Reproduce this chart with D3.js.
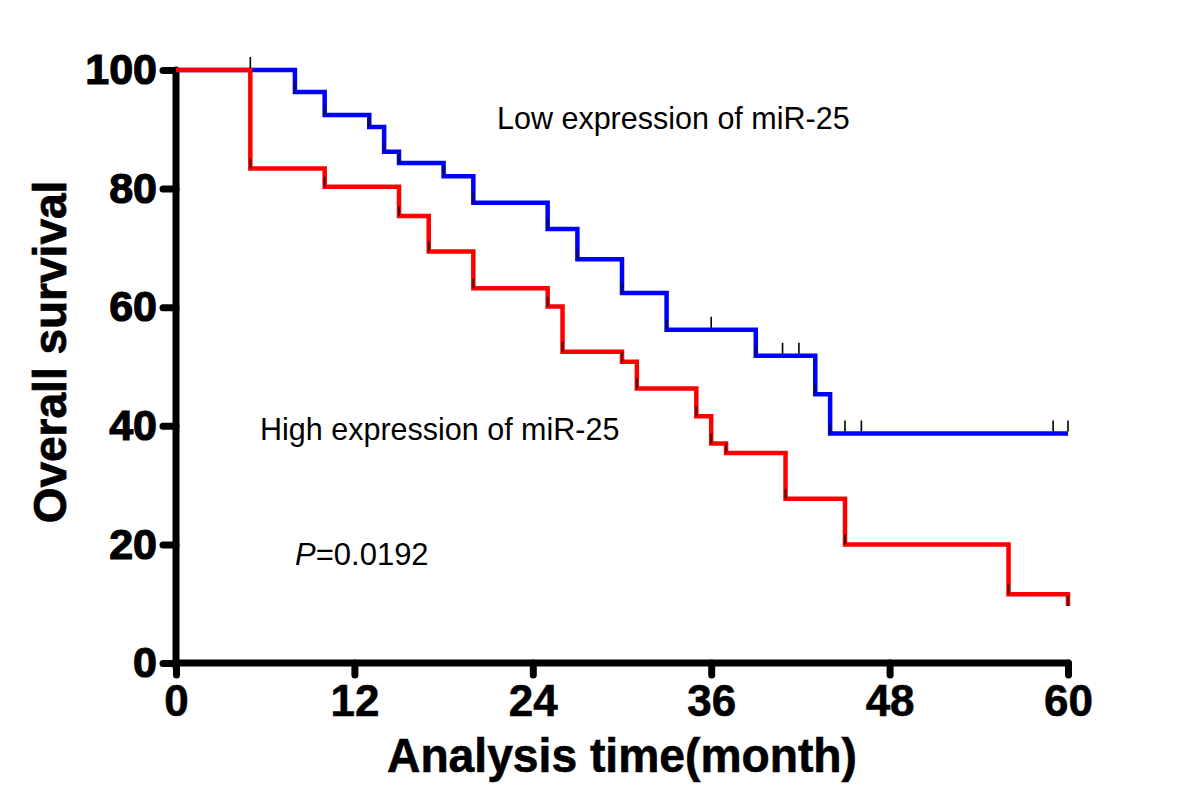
<!DOCTYPE html>
<html>
<head>
<meta charset="utf-8">
<script src="https://cdn.jsdelivr.net/npm/d3@7"></script>
<style>
  html, body { margin: 0; padding: 0; background: #fff; }
  svg { display: block; }
  text { font-family: "Liberation Sans", Arial, sans-serif; }
</style>
</head>
<body>
<svg id="chart" width="1200" height="812"></svg>
<script>
// ---- Data ----
const xTicks = [0, 12, 24, 36, 48, 60];
const yTicks = [0, 20, 40, 60, 80, 100];

// Low expression of miR-25 (blue): event times and survival after each event
const lowTimes  = [0, 8, 10, 13, 14, 15, 18, 20, 25, 27, 30, 33, 39, 43, 44, 60];
const lowSurv   = [100, 96.3, 92.4, 90.4, 86.2, 84.3, 82.1, 77.6, 73.2, 68.1, 62.4, 56.2, 51.8, 45.3, 38.7, 38.7];
const lowCensor = [5, 36, 40.8, 41.9, 45, 46.1, 59, 60];

// High expression of miR-25 (red)
const highTimes = [0, 5, 10, 15, 17, 20, 25, 26, 30, 31, 35, 36, 37, 41, 45, 56, 60];
const highSurv  = [100, 83.4, 80.3, 75.4, 69.4, 63.2, 60.1, 52.5, 50.8, 46.3, 41.6, 37.0, 35.4, 27.7, 20.0, 11.6, 9.6];
const highCensor = [];

const labels = {
  low: "Low expression of miR-25",
  high: "High expression of miR-25",
  p: "0.0192",
  xTitle: "Analysis time(month)",
  yTitle: "Overall survival"
};

// ---- Layout ----
const svg = d3.select("#chart");
const x = d3.scaleLinear().domain([0, 60]).range([176, 1068]);
const y = d3.scaleLinear().domain([0, 100]).range([663, 70]);

// ---- Axes ----
const yAxis = svg.append("g").attr("transform", `translate(${x(0)},0)`)
  .call(d3.axisLeft(y).tickValues(yTicks).tickSize(13).tickPadding(6).tickFormat(d3.format("d")));
const xAxis = svg.append("g").attr("transform", `translate(0,${y(0)})`)
  .call(d3.axisBottom(x).tickValues(xTicks).tickSize(12).tickPadding(8).tickFormat(d3.format("d")));

[yAxis, xAxis].forEach(g => {
  g.select(".domain").remove();
  g.selectAll(".tick line").attr("stroke", "#000").attr("stroke-width", 7).attr("stroke-linecap", "round");
  g.selectAll(".tick text").attr("fill", "#000").attr("font-weight", "bold");
});
yAxis.selectAll(".tick text").attr("font-size", 43).attr("dy", "0.32em").attr("x", -19)
  .attr("stroke", "#000").attr("stroke-width", 1.2);
xAxis.selectAll(".tick text").attr("font-size", 44).attr("dy", "0.71em").attr("y", 22)
  .attr("stroke", "#000").attr("stroke-width", 0.6);

// axis lines
svg.append("line").attr("x1", x(0)).attr("x2", x(0)).attr("y1", y(100)).attr("y2", y(0) + 4)
  .attr("stroke", "#000").attr("stroke-width", 7).attr("stroke-linecap", "round");
svg.append("line").attr("x1", x(0)).attr("x2", x(60)).attr("y1", y(0)).attr("y2", y(0))
  .attr("stroke", "#000").attr("stroke-width", 7).attr("stroke-linecap", "round");

// ---- Curves ----
const line = d3.line().x(d => x(d[0])).y(d => y(d[1])).curve(d3.curveStepAfter);
function drawCurve(times, surv, color) {
  const pts = times.map((t, i) => [t, surv[i]]);
  svg.append("path").datum(pts).attr("d", line)
    .attr("fill", "none").attr("stroke", color).attr("stroke-width", 4.5)
    .attr("stroke-linejoin", "miter").attr("stroke-linecap", "butt");
  // dark event marks at the lower end of each drop
  const ev = pts.filter((d, i) => i > 0 && surv[i] < surv[i - 1]);
  svg.append("g").selectAll("line").data(ev).join("line")
    .attr("x1", d => x(d[0])).attr("x2", d => x(d[0]))
    .attr("y1", d => y(d[1])).attr("y2", d => y(d[1]) - 10)
    .attr("stroke", "#111").attr("stroke-width", 2).attr("opacity", 0.75);
}
function survAt(times, surv, t) {
  let v = surv[0];
  for (let i = 0; i < times.length; i++) if (times[i] <= t) v = surv[i];
  return v;
}
function drawCensor(times, surv, cens) {
  svg.append("g").selectAll("line").data(cens).join("line")
    .attr("x1", d => x(d)).attr("x2", d => x(d))
    .attr("y1", d => y(survAt(times, surv, d)) - 2)
    .attr("y2", d => y(survAt(times, surv, d)) - 13)
    .attr("stroke", "#000").attr("stroke-width", 1.6);
}
drawCurve(lowTimes, lowSurv, "#0000ff");
drawCurve(highTimes, highSurv, "#ff0000");
drawCensor(lowTimes, lowSurv, lowCensor);
drawCensor(highTimes, highSurv, highCensor);

// ---- Annotations ----
svg.append("text").attr("x", 497).attr("y", 129).attr("font-size", 30.5).attr("fill", "#000").text(labels.low);
svg.append("text").attr("x", 260).attr("y", 440).attr("font-size", 30.5).attr("fill", "#000").text(labels.high);
const pt = svg.append("text").attr("x", 295).attr("y", 565).attr("font-size", 31).attr("fill", "#000");
pt.append("tspan").attr("font-style", "italic").text("P");
pt.append("tspan").text("=" + labels.p);

// ---- Titles ----
svg.append("text").attr("x", (x(0) + x(60)) / 2).attr("y", 772).attr("text-anchor", "middle")
  .attr("font-size", 49).attr("font-weight", "bold").attr("fill", "#000")
  .attr("textLength", 470).attr("lengthAdjust", "spacingAndGlyphs")
  .attr("stroke", "#000").attr("stroke-width", 0.6).text(labels.xTitle);
svg.append("text").attr("transform", `translate(66,352) rotate(-90)`).attr("text-anchor", "middle")
  .attr("font-size", 46).attr("font-weight", "bold").attr("fill", "#000")
  .attr("stroke", "#000").attr("stroke-width", 0.8).text(labels.yTitle);
</script>
</body>
</html>
